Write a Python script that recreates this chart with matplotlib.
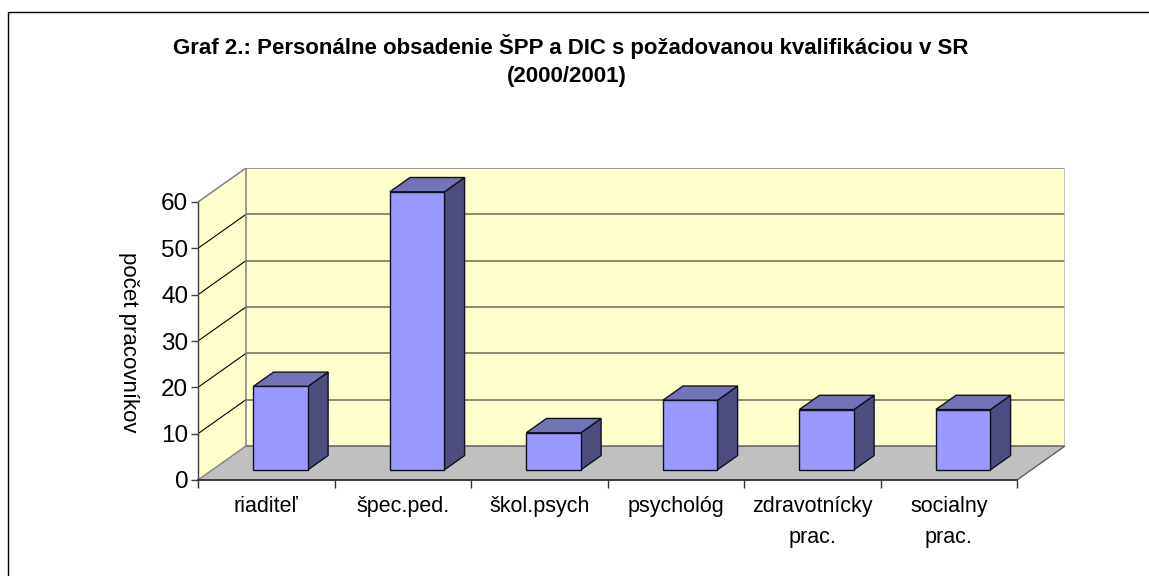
import matplotlib
matplotlib.use("Agg")
import matplotlib.pyplot as plt
from matplotlib.lines import Line2D
from matplotlib.patches import Polygon, Rectangle

categories = ["riaditeľ", "špec.ped.", "škol.psych", "psychológ", "zdravotnícky\nprac.", "socialny\nprac."]
values = [18, 60, 8, 15, 13, 13]
y_ticks = [0, 10, 20, 30, 40, 50, 60]
title_line1 = "Graf 2.: Personálne obsadenie ŠPP a DIC s požadovanou kvalifikáciou v SR"
title_line2 = "(2000/2001)"
y_label = "počet pracovníkov"

W, H = 1149, 576
plt.rcParams["font.family"] = ["Liberation Sans", "DejaVu Sans"]
fig = plt.figure(figsize=(W / 100, H / 100), dpi=100, facecolor="white")

# page frame: only the top and left edges are visible in the crop
fig.add_artist(Line2D([8 / W, 8 / W, 1], [0, 1 - 12 / H, 1 - 12 / H], transform=fig.transFigure,
                      color="black", lw=1.0))

# plot box: front axis 198..1017 px, y 0..60 at 480..202 px
px_x = 819 / 6
px_y = 278 / 60
depth_x = 48 / px_x
depth_y = 34 / px_y
ax = fig.add_axes([198 / W, (H - 480) / H, (1065 - 198) / W, (480 - 168) / H])
n = len(values)
top = y_ticks[-1]
ax.set_xlim(0, n + depth_x)
ax.set_ylim(0, top + depth_y)
ax.patch.set_visible(False)
for s in ("top", "right"):
    ax.spines[s].set_visible(False)
ax.spines["left"].set_bounds(0, top)
ax.spines["bottom"].set_bounds(0, n)
ax.spines["left"].set_color("#404040")
ax.spines["bottom"].set_color("#303030")
ax.spines["left"].set_linewidth(1.0)
ax.spines["bottom"].set_linewidth(1.3)
ax.spines["left"].set_zorder(6)
ax.spines["bottom"].set_zorder(6)

wall = "#FFFFCC"
floor = "#C0C0C0"
edge = "#808080"
# floor
ax.add_patch(Polygon([(0, 0), (n, 0), (n + depth_x, depth_y), (depth_x, depth_y)], fc=floor, ec="none", zorder=1))
# left wall
ax.add_patch(Polygon([(0, 0), (depth_x, depth_y), (depth_x, top + depth_y), (0, top)], fc=wall, ec="none", zorder=1))
# back wall
ax.add_patch(Rectangle((depth_x, depth_y), n, top, fc=wall, ec="none", zorder=1))
# gridlines
for v in y_ticks[1:-1]:
    ax.plot([depth_x, n + depth_x], [v + depth_y, v + depth_y], color="#6B6B55", lw=1.1, zorder=2, solid_capstyle="butt")
    ax.plot([0, depth_x], [v, v + depth_y], color="black", lw=0.8, zorder=2)
ax.plot([depth_x, n + depth_x], [depth_y, depth_y], color="#606060", lw=1.1, zorder=2)
ax.plot([0, depth_x, n + depth_x], [top, top + depth_y, top + depth_y], color=edge, lw=1.1, zorder=2)
ax.plot([depth_x, depth_x], [depth_y, top + depth_y], color=edge, lw=1.1, zorder=2)
ax.plot([n + depth_x, n + depth_x], [depth_y, top + depth_y], color="#B8B8B8", lw=1.1, zorder=2)
ax.plot([0, depth_x], [0, depth_y], color=edge, lw=1.0, zorder=2)
ax.plot([n, n + depth_x], [0, depth_y], color="#606060", lw=1.0, zorder=2)

# bars
bar_w = 0.4
bx = depth_x * 0.3
by = depth_y * 0.3
dx = depth_x * 0.42
dy = depth_y * 0.42
for i, v in enumerate(values):
    x0 = i + 0.5 - bar_w / 2 + bx
    x1 = x0 + bar_w
    y0 = by
    y1 = by + v
    z = 3 + i * 0.01
    ax.add_patch(Polygon([(x1, y0), (x1 + dx, y0 + dy), (x1 + dx, y1 + dy), (x1, y1)], fc="#4D4D80", ec="#111122", lw=1.0, zorder=z))
    ax.add_patch(Polygon([(x0, y1), (x1, y1), (x1 + dx, y1 + dy), (x0 + dx, y1 + dy)], fc="#7373B8", ec="#111122", lw=1.0, zorder=z))
    ax.add_patch(Rectangle((x0, y0), bar_w, y1 - y0, fc="#9999FF", ec="#111122", lw=1.0, zorder=z))

ax.set_yticks(y_ticks)
ax.set_xticks(range(n + 1))
ax.set_xticklabels([""] * (n + 1))
ax.tick_params(axis="y", labelsize=17.5, length=5, width=1.0, color="#404040", pad=2)
ax.tick_params(axis="x", length=6, width=1.0, color="#303030")
for i, c in enumerate(categories):
    ax.annotate(c, (i + 0.5, 0), xytext=(0, -11.5), textcoords="offset points", ha="center", va="top",
                fontsize=15.5, linespacing=1.65, color="black", annotation_clip=False)
fig.text(128 / W, 1 - 342 / H, y_label, rotation=-90, ha="center", va="center", fontsize=16, color="black")
fig.text(571 / W, 1 - 54 / H, title_line1, ha="center", va="baseline", fontsize=16, fontweight="bold", color="black")
fig.text(567 / W, 1 - 82 / H, title_line2, ha="center", va="baseline", fontsize=16, fontweight="bold", color="black")

fig.savefig("out.png", dpi=100, facecolor="white")
